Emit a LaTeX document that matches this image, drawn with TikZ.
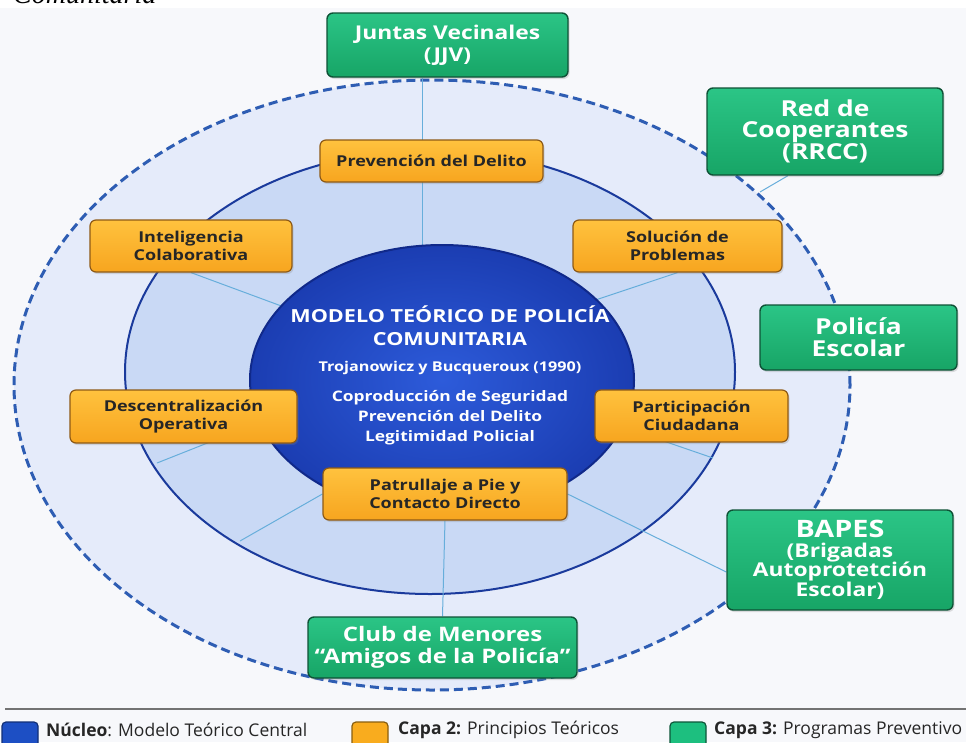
\documentclass[tikz,border=0pt]{standalone}
\usepackage{fontspec}
\setmainfont{Open Sans}
\newfontfamily\diagfont{Open Sans}[FakeStretch=1.2]
\newfontfamily\capfont{Liberation Serif}
\usetikzlibrary{shadows}

\definecolor{pagebg}{HTML}{F7F8FB}
\definecolor{outerring}{HTML}{E5EBFA}
\definecolor{dashblue}{HTML}{2E5DB3}
\definecolor{midring}{HTML}{C9D9F5}
\definecolor{midline}{HTML}{1A3A9C}
\definecolor{corein}{HTML}{2D5BDA}
\definecolor{coreout}{HTML}{1B3DB2}
\definecolor{coreline}{HTML}{10298A}
\definecolor{spokeblue}{HTML}{67AEDB}
\definecolor{orangetop}{HTML}{FFC23E}
\definecolor{orangebot}{HTML}{F7A51F}
\definecolor{orangeline}{HTML}{8E5A16}
\definecolor{greentop}{HTML}{2BC586}
\definecolor{greenbot}{HTML}{17A566}
\definecolor{greenline}{HTML}{0E5236}
\definecolor{boxtext}{HTML}{262626}
\definecolor{legblue}{HTML}{1D4FC4}
\definecolor{legorange}{HTML}{F9AC1E}
\definecolor{leggreen}{HTML}{1DBF7F}

\pgfdeclarelayer{rings}
\pgfdeclarelayer{spokes}
\pgfdeclarelayer{core}
\pgfsetlayers{rings,spokes,core,main}

\begin{document}
\begin{tikzpicture}[x=1pt, y=-1pt,
    capa2/.style={draw=orangeline, line width=1.2pt, rounded corners=6pt,
        top color=orangetop, bottom color=orangebot, text=boxtext, align=center,
        inner sep=0pt, font=\diagfont\bfseries\fontsize{15}{17.5}\selectfont,
        drop shadow={opacity=0.25, shadow xshift=1.5pt, shadow yshift=-2pt}},
    capa3/.style={draw=greenline, line width=1.4pt, rounded corners=6pt,
        top color=greentop, bottom color=greenbot, text=white, align=center,
        inner sep=0pt, font=\diagfont\bfseries\fontsize{20}{22}\selectfont,
        drop shadow={opacity=0.25, shadow xshift=1.5pt, shadow yshift=-2pt}},
    nucleo/.style={text=white, align=center, inner sep=0pt},
    spoke/.style={spokeblue, line width=1pt},
    legsq/.style={rounded corners=4pt, line width=1.2pt, minimum width=36pt, minimum height=30pt},
    legtext/.style={anchor=west, inner sep=0pt, font=\fontsize{17.5}{20}\selectfont, text=black!85}]
    \useasboundingbox (0,0) rectangle (966,742);

    \node[anchor=base west, inner sep=0pt, font=\capfont\itshape\fontsize{28}{30}\selectfont] (caption) at (13,3) {Comunitaria};

    \node[nucleo, font=\diagfont\bfseries\fontsize{18}{23}\selectfont] (titulo) at (450,326) {MODELO TEÓRICO DE POLICÍA\\COMUNITARIA};
    \node[nucleo, font=\diagfont\bfseries\fontsize{13.5}{16}\selectfont] (autores) at (450,368) {Trojanowicz y Bucqueroux (1990)};
    \node[nucleo, font=\diagfont\bfseries\fontsize{14.5}{20}\selectfont] (pilares) at (450,418) {Coproducción de Seguridad\\Prevención del Delito\\Legitimidad Policial};

    \node[capa2, minimum width=223pt, minimum height=42pt] (prev) at (431.5,161) {Prevención del Delito};
    \node[capa2, minimum width=202pt, minimum height=52pt] (intel) at (191,246) {Inteligencia\\Colaborativa};
    \node[capa2, minimum width=209pt, minimum height=52pt] (sol) at (677.5,246) {Solución de\\Problemas};
    \node[capa2, minimum width=227pt, minimum height=53pt] (desc) at (183.5,416.5) {Descentralización\\Operativa};
    \node[capa2, minimum width=193pt, minimum height=52pt] (part) at (691.5,416) {Participación\\Ciudadana};
    \node[capa2, minimum width=244pt, minimum height=52pt] (patr) at (445,494) {Patrullaje a Pie y\\Contacto Directo};

    \node[capa3, minimum width=241pt, minimum height=64pt, font=\diagfont\bfseries\fontsize{19}{22}\selectfont] (jjv) at (447.5,45) {Juntas Vecinales\\(JJV)};
    \node[capa3, minimum width=236pt, minimum height=87pt, font=\diagfont\bfseries\fontsize{22}{20.5}\selectfont] (rrcc) at (825,131.5) {Red de\\Cooperantes\\(RRCC)};
    \node[capa3, minimum width=197pt, minimum height=65pt, font=\diagfont\bfseries\fontsize{22}{22}\selectfont] (escolar) at (858.5,337.5) {Policía\\Escolar};
    \node[capa3, minimum width=226pt, minimum height=100pt, font=\diagfont\bfseries\fontsize{19}{19.5}\selectfont] (bapes) at (840,560) {{\fontsize{24}{24}\selectfont BAPES}\\(Brigadas\\Autoprotetción\\Escolar)};
    \node[capa3, minimum width=269pt, minimum height=61pt] (club) at (442.5,647.5) {Club de Menores\\“Amigos de la Policía”};

    \begin{pgfonlayer}{rings}
        \fill[pagebg] (0,0) rectangle (966,742);
        \fill[white] (0,0) rectangle (966,8);
        \fill[outerring] (432,385) ellipse [x radius=418pt, y radius=305pt];
        \draw[dashblue, line width=3pt, dash pattern=on 9pt off 5pt] (432,385) ellipse [x radius=418pt, y radius=305pt];
        \fill[midring] (430,372) ellipse [x radius=305pt, y radius=222pt];
        \draw[midline, line width=2pt] (430,372) ellipse [x radius=305pt, y radius=222pt];
    \end{pgfonlayer}

    \begin{pgfonlayer}{core}
        \shade[inner color=corein, outer color=coreout] (442,380) ellipse [x radius=192pt, y radius=135pt];
        \draw[coreline, line width=2pt] (442,380) ellipse [x radius=192pt, y radius=135pt];
    \end{pgfonlayer}

    \begin{pgfonlayer}{spokes}
        \coordinate (hub) at (422,358);
        \coordinate (midl) at (157,463);
        \coordinate (midr) at (713,458);
        \coordinate (rrccfoot) at (760,192);
        \draw[spoke] (hub) -- (hub |- jjv.south);
        \draw[spoke] (hub) -- (intel.south);
        \draw[spoke] (hub) -- (sol.south);
        \draw[spoke] (hub) -- (midl);
        \draw[spoke] (hub) -- ([yshift=9pt]part.west);
        \draw[spoke] (hub) -- (midr);
        \draw[spoke] (patr.south) -- (club.north);
        \draw[spoke] (patr.west) -- (240,541);
        \draw[spoke] (patr.east) -- ([yshift=-12pt]bapes.west);
        \draw[spoke] (rrccfoot) -- (rrcc.230);
    \end{pgfonlayer}

    \draw[black!55, line width=1.5pt] (5,709) -- (966,709);
    \node[legsq, fill=legblue, draw=legblue!60!black] (legnucleo) at (20,737) {};
    \node[legtext] (txtnucleo) at (46,730) {\textbf{Núcleo}: Modelo Teórico Central};
    \node[legsq, fill=legorange, draw=legorange!55!black] (legcapa2) at (370,737) {};
    \node[legtext] (txtcapa2) at (398,730) {\textbf{Capa 2:} Principios Teóricos};
    \node[legsq, fill=leggreen, draw=leggreen!45!black] (legcapa3) at (688,737) {};
    \node[legtext] (txtcapa3) at (714,730) {\textbf{Capa 3:} Programas Preventivo};
\end{tikzpicture}
\end{document}
